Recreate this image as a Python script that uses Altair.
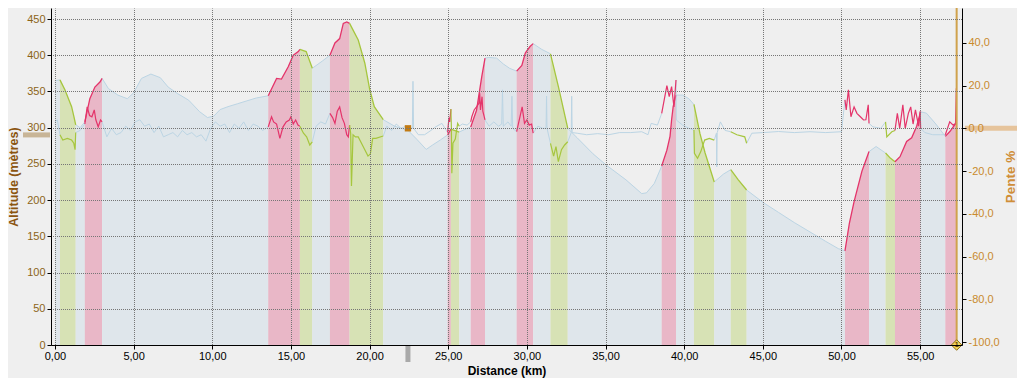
import altair as alt
import pandas as pd

# ---------------- data ----------------
alt_km = [0.0, 0.32, 0.64, 1.06, 1.21, 1.32, 1.6, 1.9, 2.22, 2.54, 2.86, 3.0, 3.4, 4.0, 4.6, 5.0,
          5.5, 6.1, 6.7, 7.2, 7.8, 8.5, 9.2, 9.7, 10.1, 10.5, 11.0, 11.6, 12.2, 12.8, 13.56,
          14.09, 14.4, 14.83, 15.15, 15.47, 15.57, 15.97, 16.36, 17.0, 17.48, 17.8, 18.1, 18.33,
          18.55, 18.73, 19.28, 19.7, 20.0, 20.3, 20.87, 21.6, 22.46, 23.0, 23.6, 24.0, 24.5,
          24.96, 25.17, 25.7, 26.1, 26.43, 26.8, 27.13, 27.34, 27.6, 28.08, 28.5, 28.9, 29.35,
          29.68, 29.9, 30.2, 30.4, 30.95, 31.5, 32.0, 32.6, 33.2, 34.2, 35.07, 36.3, 37.3, 37.6,
          38.1, 38.57, 38.9, 39.1, 39.2, 39.3, 39.48, 39.9, 40.3, 40.62, 41.0, 41.33, 41.91,
          42.5, 42.96, 43.44, 43.97, 45.0, 46.0, 47.0, 48.0, 49.0, 49.8, 50.22, 50.5, 50.8,
          51.3, 51.75, 52.2, 52.8, 53.1, 53.4, 53.72, 54.14, 54.46, 54.78, 55.03, 55.4, 56.0,
          56.6, 56.9, 57.2, 57.3]
alt_m = [365, 366, 352, 329, 315, 304, 300, 308, 340, 356, 363, 368, 354, 345, 340, 348,
         368, 374, 369, 356, 347, 338, 322, 314, 316, 325, 329, 333, 337, 341, 344,
         368, 367, 384, 400, 405, 408, 405, 382, 392, 400, 417, 423, 444,
         446, 444, 421, 389, 354, 329, 311, 302, 296, 284, 270, 276, 283,
         290, 298, 294, 298, 301, 324, 370, 396, 397, 396, 388, 382, 378,
         386, 403, 412, 416, 408, 402, 357, 299, 286, 264, 248, 228, 209, 210,
         223, 247, 269, 288, 311, 329, 345, 345, 340, 332, 292, 265, 225,
         236, 242, 228, 214, 197, 183, 169, 156, 143, 133, 130, 168, 198,
         240, 267, 274, 265, 258, 253, 260, 281, 286, 302, 322, 320, 305,
         288, 295, 304, 306]

slope_km = [0.0, 0.15, 0.32, 0.5, 0.79, 1.06, 1.2, 1.28, 1.32, 1.6, 1.9, 2.05, 2.2, 2.35, 2.5,
            2.6, 2.75, 2.9, 3.0, 3.3, 3.6, 3.9, 4.2, 4.5, 4.8, 5.1, 5.4, 5.7, 6.0, 6.3, 6.6,
            6.9, 7.2, 7.5, 7.8, 8.1, 8.4, 8.7, 9.0, 9.3, 9.6, 9.9, 10.2, 10.5, 10.8, 11.1,
            11.4, 11.7, 12.0, 12.3, 12.6, 12.9, 13.2, 13.56, 13.77, 13.9, 14.09, 14.3, 14.5,
            14.7, 14.9, 15.0, 15.15, 15.3, 15.45, 15.57, 15.8, 16.0, 16.2, 16.36, 16.6, 16.9,
            17.2, 17.48, 17.65, 17.8, 17.95, 18.1, 18.25, 18.4, 18.55, 18.65, 18.73, 18.8,
            18.85, 18.95, 19.1, 19.28, 19.6, 19.9, 20.05, 20.2, 20.4, 20.87, 21.1, 21.4, 21.7,
            22.0, 22.3, 22.72, 22.76, 22.8, 23.1, 23.5, 23.9, 24.2, 24.6, 24.96, 25.05, 25.1,
            25.17, 25.2, 25.23, 25.3, 25.45, 25.6, 25.7, 25.9, 26.2, 26.43, 26.5, 26.65, 26.8,
            26.95, 27.0, 27.05, 27.15, 27.2, 27.34, 27.6, 27.9, 28.2, 28.4, 28.45, 28.5, 28.8,
            29.0, 29.05, 29.1, 29.35, 29.56, 29.7, 29.85, 30.0, 30.15, 30.3, 30.4, 30.7, 31.0,
            31.22, 31.25, 31.28, 31.5, 31.7, 31.85, 32.0, 32.2, 32.4, 32.6, 32.82, 32.85, 32.88,
            33.2, 33.8, 34.5, 35.2, 35.9, 36.6, 37.3, 37.7, 37.9, 38.3, 38.57, 38.9, 39.05,
            39.2, 39.35, 39.48, 39.5, 39.9, 40.3, 40.62, 40.65, 40.85, 41.05, 41.3, 41.6, 41.91,
            42.05, 42.07, 42.1, 42.3, 42.6, 42.96, 43.35, 43.85, 43.97, 44.3, 45.0, 46.0, 47.0,
            48.0, 49.0, 50.0, 50.22, 50.3, 50.44, 50.6, 50.8, 50.98, 51.2, 51.4, 51.55, 51.7,
            51.75, 52.0, 52.5, 52.8, 52.88, 53.2, 53.4, 53.55, 53.7, 53.9, 54.05, 54.25, 54.4,
            54.55, 54.7, 54.9, 55.0, 55.03, 55.3, 55.8, 56.3, 56.6, 56.88, 57.1, 57.25, 57.3]
slope_pct = [3, 4, -3, -5.5, -4.7, -5.5, -7, -10, -2, -1, 2, 10, 6, 5.4, 8.6,
             4, 0.7, 3.9, 3, -4, 0, -3, -2, 1, -1, 3, 4, 1, 2, -2, 1,
             -4, -3, -2, -4, -1, -3, -2, -4, -3, -6, 0, 3, 1, 2, -2,
             2, 0, 3, -1, 2, 1, -1, 0.7, 5.4, 3, 2, -4.7, 0.7,
             3, 3.9, 5.4, 2, 3.9, 1.5, 1, -2.3, -4, -7.8, -6.3, 1, 3,
             2, 7, 5, 2.3, 8, 10, 5, 2.3, -3, -4, 1.5, -2.3,
             -27, -3, -4, -4, -8.6, -13, -12, -4.7, -4.7, -3.6, 1, -1, 2,
             0, 1, 0, 22, 0, -3, -3, -1, 0.7, 2.3, -2, 5, 3,
             9, 0.7, -21, -7, -5, 2.3, 1, 2, 1.5, 3, 5.4, 8.6, 10,
             11.7, 16.4, 8.6, 14.8, 8, 3.9, 1, 3, 1, 2, 18, 1, 3,
             1, 15, 0, -1.6, 5.4, 10, 2.3, 3.9, 1.5, 2, -2.3, 1, 0,
             0, 15, 0, -7, -13, -8.6, -15.6, -10, -7.8, -6.3, -2, 15, -2,
             -2.3, -3, -2.5, -3, -2, -2, -1.6, -3, 2.3, 1.5, 7, 20, 14.8,
             19.5, 10, 22.6, 3.9, 1.5, 0, -0.8, -11.7, -14, -11, -5.5, -4.7, -5.5,
             -2.3, -18, -2, 3, -1, -1.6, -3, -4, -7, -2.3, -2, -1.5, -2,
             -1.6, -2, -1.6, 13.3, 8.6, 18, 5.4, 10, 7, 5.4, 3.9, 4, 11,
             2.3, 0.7, 0, 3, -4, -1.6, -1, 7, 0, 11, 0, 7, 10,
             2, 8.6, 1, 8, 0, -2, -3, -3, -3, 3, 1.5, 2.3, 18.7]

seg_start = [0.0, 0.32, 1.32, 1.9, 3.0, 13.56, 15.57, 16.36, 17.48, 18.73, 20.87, 24.96, 25.17,
             25.7, 26.43, 27.34, 29.35, 30.4, 31.5, 32.6, 38.57, 39.48, 40.62, 41.91, 42.96,
             43.97, 50.22, 51.75, 52.8, 53.4, 55.03, 56.6]
seg_end = [0.32, 1.32, 1.9, 3.0, 13.56, 15.57, 16.36, 17.48, 18.73, 20.87, 24.96, 25.17, 25.7,
           26.43, 27.34, 29.35, 30.4, 31.5, 32.6, 38.57, 39.48, 40.62, 41.91, 42.96, 43.97,
           50.22, 51.75, 52.8, 53.4, 55.03, 56.6, 57.3]
seg_kind = ["plat", "descente", "plat", "montee", "plat", "montee", "descente", "plat", "montee",
            "descente", "plat", "montee", "descente", "plat", "montee", "plat", "montee", "plat",
            "descente", "plat", "montee", "plat", "descente", "plat", "descente", "plat",
            "montee", "plat", "descente", "montee", "plat", "montee"]

cursor_km = [22.44]
end_km = [57.32]
alt_handle = [290]
slope_handle = [0]
end_label = ["1"]

x_ticks = [0, 5, 10, 15, 20, 25, 30, 35, 40, 45, 50, 55]
alt_ticks = [0, 50, 100, 150, 200, 250, 300, 350, 400, 450]
slope_ticks = [-100, -80, -60, -40, -20, 0, 20, 40]

FILL = {"plat": "#dfe6eb", "montee": "#e9b7c7", "descente": "#d7e2b5"}
STROKE = {"plat": "#bcd5e4", "montee": "#e4346a", "descente": "#a6c63e"}


def split(xs, ys, name):
    rows = []
    for i, (s, e, k) in enumerate(zip(seg_start, seg_end, seg_kind)):
        for xv, yv in zip(xs, ys):
            if s - 1e-6 <= xv <= e + 1e-6:
                rows.append({"seg": i, "kind": k, "km": xv, name: yv,
                             "fill": FILL[k], "stroke": STROKE[k]})
    return pd.DataFrame(rows)


df_alt = split(alt_km, alt_m, "alt")
df_slope = split(slope_km, slope_pct, "pente")

# ---------------- scales / axes ----------------
FONT = "Liberation Sans"
W, H = 911, 337
GRID = dict(grid=True, gridColor="#767676", gridDash=[1, 1], gridDashOffset=0.5,
            gridWidth=1, gridOpacity=1)

xscale = alt.Scale(domain=[-0.25, 57.66], nice=False, zero=False)
xaxis = alt.Axis(values=x_ticks, **GRID,
                 domainColor="black", tickColor="black", tickSize=4, labelPadding=1,
                 labelColor="black", labelFont=FONT, labelFontSize=11,
                 labelExpr="replace(format(datum.value, '.2f'), '.', ',')",
                 title="Distance (km)", titleFont=FONT, titleFontSize=12,
                 titleFontWeight="bold", titleColor="black", titlePadding=4, zindex=1)

ascale = alt.Scale(domain=[0, 465.2], nice=False, zero=False)
aaxis = alt.Axis(values=alt_ticks, **GRID,
                 domainColor="black", tickColor="black", tickSize=4, labelPadding=2,
                 labelColor="#8c6418", labelFont=FONT, labelFontSize=11, format="d",
                 title="Altitude (mètres)", titleFont=FONT, titleFontSize=12.5,
                 titleFontWeight="bold", titleColor="#8b5510", titleAngle=270,
                 titleBaseline="bottom", titleX=-31, titleY=H / 2, zindex=1)

sscale = alt.Scale(domain=[-101.4, 56.3], nice=False, zero=False)
saxis = alt.Axis(orient="right", values=slope_ticks, grid=False,
                 domainColor="black", tickColor="black", tickSize=4, labelPadding=2,
                 labelColor="#c98a2c", labelFont=FONT, labelFontSize=11,
                 labelExpr="(datum.value < 0 ? '-' : '') + replace(format(abs(datum.value), '.1f'), '.', ',')",
                 title="Pente %", titleFont=FONT, titleFontSize=13.5, titleFontWeight="bold",
                 titleColor="#cf8e38", titleAngle=270, titleBaseline="bottom",
                 titleX=55, titleY=H / 2, zindex=1)

X = alt.X("km:Q", scale=xscale, axis=xaxis)
YA = alt.Y("alt:Q", scale=ascale, axis=aaxis, stack=None)
YS = alt.Y("pente:Q", scale=sscale, axis=saxis)

base_alt = alt.Chart(df_alt)
area = base_alt.mark_area(interpolate="linear", opacity=1).encode(
    x=X, y=YA, color=alt.Color("fill:N", scale=None), detail="seg:N")
alt_flat = base_alt.transform_filter("datum.kind == 'plat'").mark_line(strokeWidth=1).encode(
    x=X, y=YA, color=alt.Color("stroke:N", scale=None), detail="seg:N")
alt_col = base_alt.transform_filter("datum.kind != 'plat'").mark_line(strokeWidth=1.3).encode(
    x=X, y=YA, color=alt.Color("stroke:N", scale=None), detail="seg:N")

left_handle = alt.Chart(pd.DataFrame({"alt": alt_handle})).mark_rule(
    strokeWidth=5, color="#c8b597").encode(
    x=alt.value(-28), x2=alt.value(-1), y=YA)
gray_handle = alt.Chart(pd.DataFrame({"km": cursor_km})).mark_rule(
    strokeWidth=5, color="#a9a9a9").encode(
    x=X, y=alt.value(H), y2=alt.value(H + 17))

alt_layer = alt.layer(area, alt_flat, alt_col, left_handle, gray_handle)

base_s = alt.Chart(df_slope)
s_flat = base_s.transform_filter("datum.kind == 'plat'").mark_line(strokeWidth=1).encode(
    x=X, y=YS, color=alt.Color("stroke:N", scale=None), detail="seg:N")
s_col = base_s.transform_filter("datum.kind != 'plat'").mark_line(strokeWidth=1.2).encode(
    x=X, y=YS, color=alt.Color("stroke:N", scale=None), detail="seg:N")

cur_df = pd.DataFrame({"km": cursor_km, "pente": slope_handle})
square = alt.Chart(cur_df).mark_square(size=40, color="#c27a12", opacity=1).encode(x=X, y=YS)
right_handle = alt.Chart(pd.DataFrame({"pente": slope_handle})).mark_rule(
    strokeWidth=5, color="#e6c49c").encode(
    x=alt.value(W + 3), x2=alt.value(W + 55), y=YS)

end_df = pd.DataFrame({"km": end_km, "lab": end_label})
vline = alt.Chart(end_df).mark_rule(strokeWidth=2, color="#d0a24c").encode(
    x=X, y=alt.value(0), y2=alt.value(H))
diamond = alt.Chart(end_df).mark_point(shape="diamond", filled=True, size=110,
                                       fill="#f2d35c", stroke="#8a6a10", strokeWidth=1,
                                       opacity=1).encode(x=X, y=alt.value(H))
dlabel = alt.Chart(end_df).mark_text(fontSize=7, font=FONT, fontWeight="bold",
                                     color="#5a4200", baseline="middle").encode(
    x=X, y=alt.value(H), text="lab:N")

slope_layer = alt.layer(s_flat, s_col, square, right_handle, vline, diamond, dlabel)

chart = alt.layer(alt_layer, slope_layer).resolve_scale(y="independent").properties(
    width=W, height=H,
    autosize=alt.AutoSizeParams(type="none"),
    padding={"left": 43, "top": 0, "right": 55, "bottom": 33},
    background="#efefef",
).configure_view(stroke=None)

chart.save("out.html", embed_options={"renderer": "svg", "actions": False})
